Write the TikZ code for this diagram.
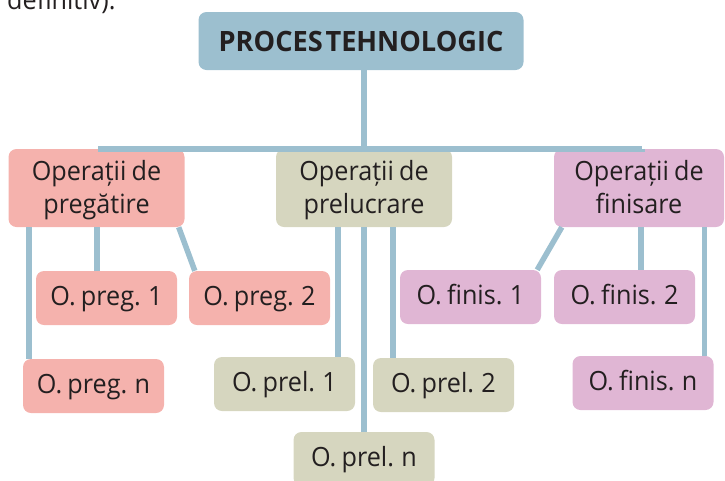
\documentclass[tikz,border=0pt]{standalone}
\usepackage{fontspec}
\setmainfont[FakeStretch=0.95, WordSpace=0.8]{Open Sans}
\newfontfamily\titlefont[FakeStretch=0.97, WordSpace=0.4]{Open Sans}

\definecolor{linkblue}{HTML}{9CBFCF}
\definecolor{pregpink}{HTML}{F5B2AD}
\definecolor{prelkhaki}{HTML}{D6D6BF}
\definecolor{finpurple}{HTML}{E0B6D4}
\definecolor{textdark}{HTML}{231F20}

\begin{document}
\begin{tikzpicture}[x=1pt, y=-1pt,
	box/.style={rounded corners=8pt, align=center, text=textdark, inner sep=0pt,
		font=\fontsize{26.5}{33}\selectfont},
	bigbox/.style={box, minimum width=176pt, minimum height=78pt, text height=52pt, text depth=2pt},
	smallbox/.style={box, minimum width=141pt, minimum height=54pt, text height=19pt, text depth=5pt},
	link/.style={draw=linkblue, line width=5.5pt}]
	\useasboundingbox (0,0) rectangle (725,480);
	% text of the page above, cut by the frame
	\node[anchor=base west, text=textdark, font=\fontsize{26.5}{30}\selectfont, inner sep=0pt] (above) at (7,9) {definitiv).};
	% top box
	\node[box, fill=linkblue, minimum width=325pt, minimum height=58pt, text height=20pt, text depth=0pt,
		font=\titlefont\bfseries\fontsize{28}{30}\selectfont] (proces) at (361,41) {PROCES TEHNOLOGIC};
	% the three groups
	\node[bigbox, fill=pregpink] (pregatire) at (96.5,188) {Operații de\\pregătire};
	\node[bigbox, fill=prelkhaki] (prelucrare) at (364,188) {Operații de\\prelucrare};
	\node[bigbox, fill=finpurple, minimum width=170pt] (finisare) at (639,188) {Operații de\\finisare};
	% operations
	\node[smallbox, fill=pregpink] (preg1) at (106.5,298) {O. preg. 1};
	\node[smallbox, fill=pregpink] (preg2) at (259.5,298) {O. preg. 2};
	\node[smallbox, fill=pregpink] (pregn) at (93.5,386) {O. preg. n};
	\node[smallbox, fill=prelkhaki] (prel1) at (284.5,384) {O. prel. 1};
	\node[smallbox, fill=prelkhaki] (prel2) at (443.5,385) {O. prel. 2};
	\node[smallbox, fill=prelkhaki] (preln) at (364,459) {O. prel. n};
	\node[smallbox, fill=finpurple] (fin1) at (470.5,297) {O. finis. 1};
	\node[smallbox, fill=finpurple] (fin2) at (624.5,297) {O. finis. 2};
	\node[smallbox, fill=finpurple] (finn) at (643,383) {O. finis. n};
	% tree lines
	\coordinate (bus) at (364,152);
	\draw[link] (proces.south -| bus) -- (bus);
	\draw[link] (pregatire.north -| 98,0) |- (finisare.north -| 642,0 |- bus);
	\draw[link] (bus) -- (prelucrare.north);
	\draw[link] (finisare.north -| 642,0) -- (642,152);
	% pregatire
	\draw[link] ([xshift=6pt]pregn.north west) -- ([xshift=6pt]pregn.north west |- pregatire.south);
	\draw[link] ([xshift=-9.5pt]preg1.north) -- ([xshift=-9.5pt]preg1.north |- pregatire.south);
	\draw[link] ([xshift=-6pt]pregatire.south east) -- ([xshift=6pt]preg2.north west);
	% prelucrare
	\draw[link] ([xshift=-17pt]prel1.north east) -- ([xshift=-17pt]prel1.north east |- prelucrare.south);
	\draw[link] (prelucrare.south) -- (preln.north);
	\draw[link] ([xshift=20pt]prel2.north west) -- ([xshift=20pt]prel2.north west |- prelucrare.south);
	% finisare
	\draw[link] ([xshift=8pt]finisare.south west) -- ([xshift=-4pt]fin1.north east);
	\draw[link] ([xshift=16.5pt]fin2.north) -- ([xshift=16.5pt]fin2.north |- finisare.south);
	\draw[link] ([xshift=-9pt]finn.north east) -- ([xshift=-9pt]finn.north east |- finisare.south);
\end{tikzpicture}
\end{document}
